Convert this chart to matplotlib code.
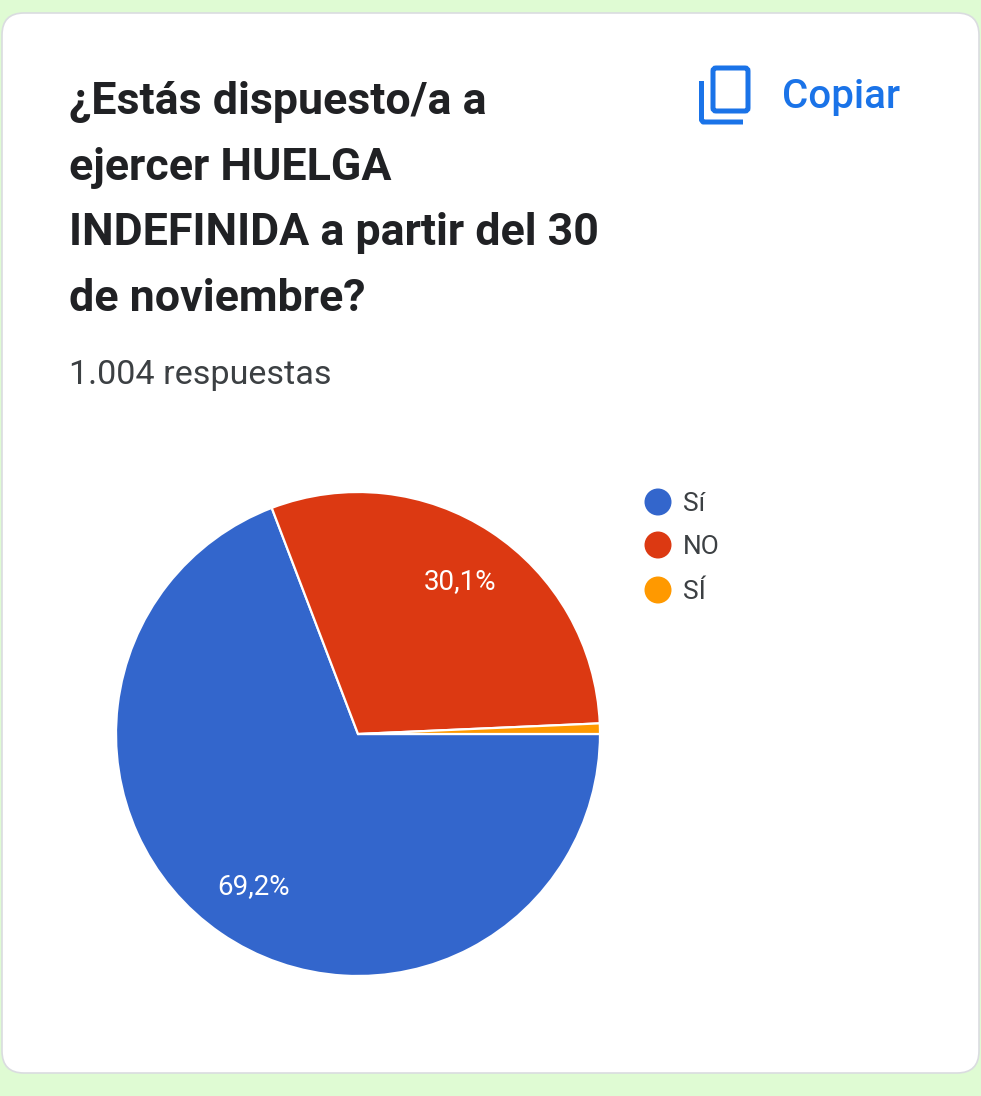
import matplotlib
matplotlib.use("Agg")
import matplotlib.pyplot as plt
from matplotlib.patches import FancyBboxPatch, Circle

W, H = 981, 1096

# donnees
labels = ["Sí", "NO", "SÍ"]
values = [69.2, 30.1, 0.7]
pct_labels = ["69,2%", "30,1%", ""]
colors = ["#3366CC", "#DC3912", "#FF9900"]

title_lines = ["¿Estás dispuesto/a a", "ejercer HUELGA", "INDEFINIDA a partir del 30", "de noviembre?"]
title_y = [102, 168, 233, 299]
subtitle = "1.004 respuestas"

plt.rcParams["font.family"] = ["Roboto", "DejaVu Sans"]

fig = plt.figure(figsize=(W / 100, H / 100), dpi=100, facecolor="#DFFBD3")

# fond en pixels
bg = fig.add_axes([0, 0, 1, 1])
bg.set_xlim(0, W)
bg.set_ylim(H, 0)
bg.axis("off")

card = FancyBboxPatch((2, 13), 977, 1060, boxstyle="round,pad=0,rounding_size=22",
                      facecolor="white", edgecolor="#DADCE0", linewidth=1.2)
bg.add_patch(card)

for line, y in zip(title_lines, title_y):
    bg.text(69, y, line, fontsize=32.2, fontweight="bold", color="#202124", va="center", ha="left")
bg.text(69, 375, subtitle, fontsize=24.6, color="#3C4043", va="center", ha="left")

# icone copier
blue = "#1A73E8"
bg.add_patch(FancyBboxPatch((713, 68), 35, 43, boxstyle="round,pad=0,rounding_size=3",
                            facecolor="none", edgecolor=blue, linewidth=3.6))
bg.plot([701.5, 701.5, 703, 743], [81, 120, 122, 122], color=blue, linewidth=3.6, solid_capstyle="butt")
bg.text(782, 97, "Copiar", fontsize=29, color=blue, va="center", ha="left", fontweight="medium")

# camembert
ax = fig.add_axes([116 / W, 1 - 976 / H, 484 / W, 484 / H])
wedges, _ = ax.pie(values, colors=colors, startangle=0, counterclock=False,
                   radius=1.0, wedgeprops={"edgecolor": "white", "linewidth": 1.6})
ax.set_xlim(-1, 1)
ax.set_ylim(-1, 1)

ax.text(-0.43, -0.63, pct_labels[0], color="white", fontsize=20, ha="center", va="center")
ax.text(0.42, 0.63, pct_labels[1], color="white", fontsize=20, ha="center", va="center")

# legende
legend_y = [502, 545, 590]
for lab, col, y in zip(labels, colors, legend_y):
    bg.add_patch(Circle((658, y), 13.5, facecolor=col, edgecolor="none"))
    bg.text(683, y + 2, lab, fontsize=19, color="#3C4043", va="center", ha="left")

fig.savefig("out.png", dpi=100, facecolor=fig.get_facecolor())
